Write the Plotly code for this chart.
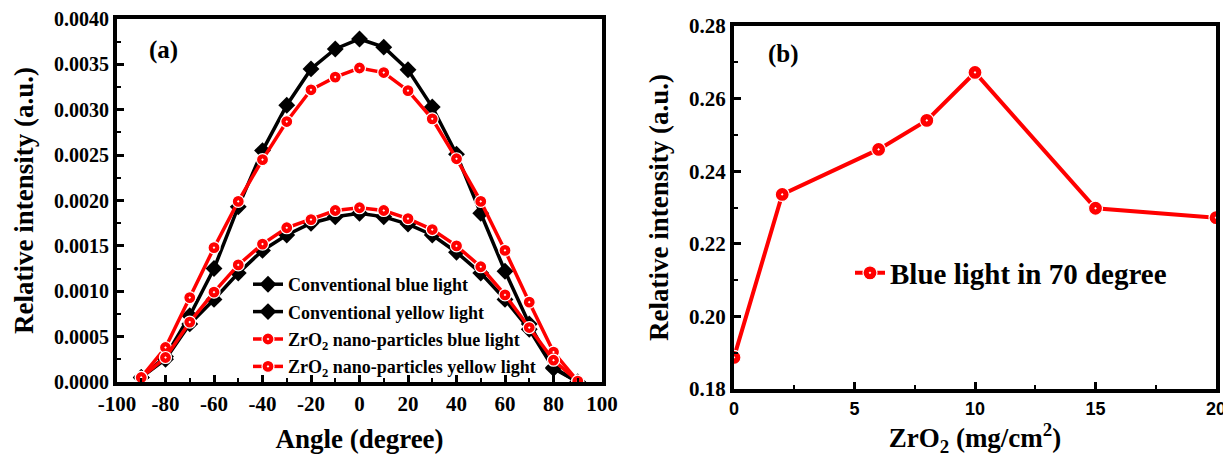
import plotly.graph_objects as go

# ---------------- data ----------------
angle = [-90, -80, -70, -60, -50, -40, -30, -20, -10, 0, 10, 20, 30, 40, 50, 60, 70, 80, 90]
conv_blue = [0.00005, 0.00028, 0.00073, 0.00125, 0.00193, 0.00255, 0.00305, 0.00345, 0.00367, 0.00378,
             0.00369, 0.00344, 0.00303, 0.00251, 0.00186, 0.00122, 0.00064, 0.00016, 0.00000]
conv_yellow = [0.00005, 0.00025, 0.00064, 0.00091, 0.00120, 0.00145, 0.00162, 0.00175, 0.00182, 0.00186,
               0.00182, 0.00174, 0.00162, 0.00143, 0.00120, 0.00091, 0.00058, 0.00015, 0.00000]
zro2_blue = [0.00005, 0.00038, 0.00093, 0.00148, 0.00199, 0.00245, 0.00287, 0.00322, 0.00336, 0.00346,
             0.00341, 0.00321, 0.00290, 0.00246, 0.00199, 0.00145, 0.00088, 0.00033, 0.00001]
zro2_yellow = [0.00005, 0.00027, 0.00066, 0.00099, 0.00129, 0.00152, 0.00170, 0.00179, 0.00189, 0.00192,
               0.00189, 0.00180, 0.00168, 0.00150, 0.00127, 0.00096, 0.00060, 0.00024, 0.00001]

angle_ticks = [-100, -80, -60, -40, -20, 0, 20, 40, 60, 80, 100]
angle_ticklabels = ["-100", "-80", "-60", "-40", "-20", "0", "20", "40", "60", "80", "100"]

zro2_conc = [0, 2, 6, 8, 10, 15, 20]
blue_70deg = [0.1887, 0.2336, 0.2460, 0.2540, 0.2672, 0.2298, 0.2272]

names_a = ["Conventional blue light", "Conventional yellow light",
           "ZrO<sub>2</sub> nano-particles blue light", "ZrO<sub>2</sub> nano-particles yellow light"]
name_b = "Blue light in 70 degree"

SERIF = "Liberation Serif"
SANS = "Liberation Sans"
OFF = 8                      # default page margin around the figure div
W, H = 1231 - OFF, 463 - OFF

fig = go.Figure()

black_marker = dict(symbol="diamond", size=13, color="black", line=dict(color="black", width=0))
red_marker = dict(symbol="circle-dot", size=12, color="#ff0000", line=dict(color="white", width=1.2))

series_a = [(conv_blue, "black", black_marker), (conv_yellow, "black", black_marker),
            (zro2_blue, "#ff0000", red_marker), (zro2_yellow, "#ff0000", red_marker)]
for i, (vals, col, mk) in enumerate(series_a):
    fig.add_trace(go.Scatter(
        x=angle, y=vals, mode="lines+markers", name=names_a[i],
        line=dict(color=col, width=3.5), marker=mk,
        xaxis="x", yaxis="y", legend="legend", legendgroup=f"g{i}"))

fig.add_trace(go.Scatter(
    x=zro2_conc, y=blue_70deg, mode="lines+markers", name=name_b,
    line=dict(color="#ff0000", width=4),
    marker=dict(symbol="circle-dot", size=14, color="#ff0000", line=dict(color="white", width=1.2)),
    xaxis="x2", yaxis="y2", legend="legend2"))

def px_x(p):
    return (p - OFF) / W

def px_y(p):
    return 1 - (p - OFF) / H

axis_common = dict(showline=True, linecolor="black", linewidth=4, mirror=True,
                   ticks="inside", ticklen=7, tickwidth=3, tickcolor="black",
                   showgrid=False, zeroline=False, automargin=False)

fig.update_layout(
    width=W, height=H,
    margin=dict(l=0, r=0, t=0, b=0, autoexpand=False),
    paper_bgcolor="white", plot_bgcolor="white",
    font=dict(family=SERIF, color="black"),
    xaxis=dict(domain=[px_x(117), px_x(602)], range=[-100, 100], anchor="y",
               tickmode="array", tickvals=angle_ticks, ticktext=angle_ticklabels,
               minor=dict(ticks="inside", dtick=10, tick0=-100, ticklen=4, tickwidth=2, tickcolor="black"),
               tickfont=dict(family=SERIF, size=21, weight="bold"),
               title=dict(text="Angle (degree)", font=dict(family=SERIF, size=27, weight="bold"), standoff=15),
               **axis_common),
    yaxis=dict(domain=[px_y(382), px_y(19)], range=[0, 0.004], anchor="x",
               tick0=0, dtick=0.0005, tickformat=".4f",
               minor=dict(ticks="inside", dtick=0.00025, ticklen=4, tickwidth=2, tickcolor="black"),
               tickfont=dict(family=SERIF, size=20, weight="bold"),
               title=dict(text="Relative intensity (a.u.)", font=dict(family=SERIF, size=27, weight="bold"), standoff=14),
               **axis_common),
    xaxis2=dict(domain=[px_x(734), px_x(1216)], range=[0, 20], anchor="y2",
                tick0=0, dtick=5,
                minor=dict(ticks="inside", dtick=2.5, ticklen=4, tickwidth=2, tickcolor="black"),
                tickfont=dict(family=SANS, size=18, weight="bold"),
                title=dict(text="ZrO<sub>2</sub> (mg/cm<sup>2</sup>)", font=dict(family=SERIF, size=27, weight="bold"), standoff=8),
                **axis_common),
    yaxis2=dict(domain=[px_y(389), px_y(26)], range=[0.18, 0.28], anchor="x2",
                tick0=0.18, dtick=0.02, tickformat=".2f",
                minor=dict(ticks="inside", dtick=0.01, ticklen=4, tickwidth=2, tickcolor="black"),
                tickfont=dict(family=SERIF, size=21, weight="bold"),
                title=dict(text="Relative intensity (a.u.)", font=dict(family=SERIF, size=27, weight="bold"), standoff=14),
                **axis_common),
    legend=dict(x=px_x(248), y=px_y(266), xanchor="left", yanchor="top",
                bgcolor="rgba(0,0,0,0)", borderwidth=0,
                font=dict(family=SERIF, size=18, weight="bold", color="black"),
                traceorder="grouped", tracegroupgap=1, itemwidth=30),
    legend2=dict(x=px_x(850), y=px_y(273), xanchor="left", yanchor="middle",
                 bgcolor="rgba(0,0,0,0)", borderwidth=0,
                 font=dict(family=SERIF, size=29, weight="bold", color="black"), itemwidth=30),
    showlegend=True,
    annotations=[
        dict(text="(a)", x=px_x(163), y=px_y(50), xref="paper", yref="paper", showarrow=False,
             xanchor="center", yanchor="middle",
             font=dict(family=SERIF, size=25, weight="bold", color="black")),
        dict(text="(b)", x=px_x(783), y=px_y(54), xref="paper", yref="paper", showarrow=False,
             xanchor="center", yanchor="middle",
             font=dict(family=SERIF, size=25, weight="bold", color="black")),
    ],
)

fig.write_html("out.html")
